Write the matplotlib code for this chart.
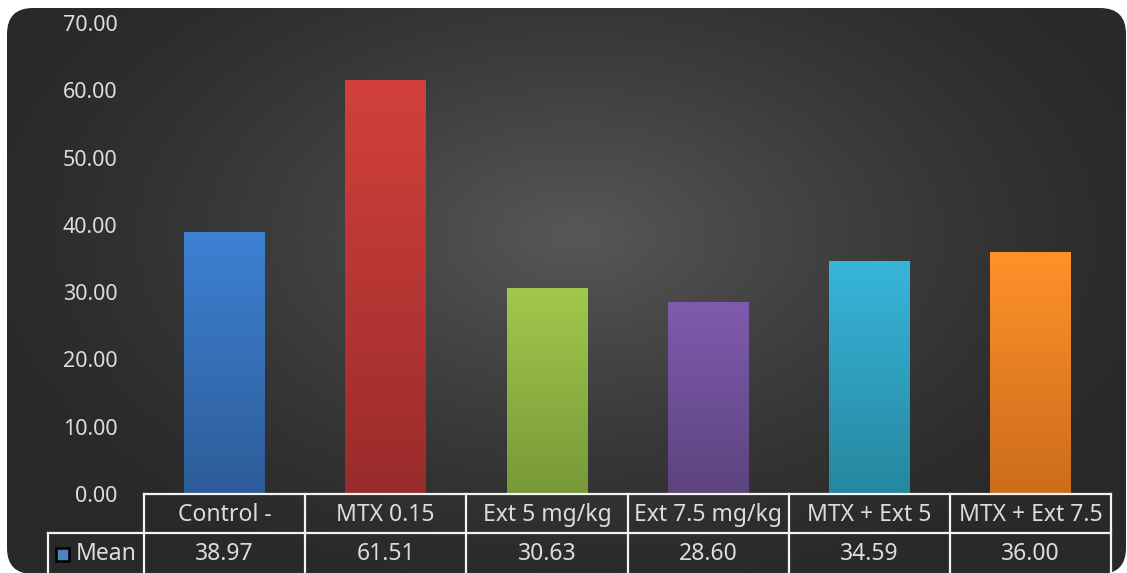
import numpy as np
import matplotlib
matplotlib.use("Agg")
import matplotlib.pyplot as plt
import matplotlib.transforms as mtransforms
from matplotlib.patches import FancyBboxPatch, Rectangle

# data
groups = ["Control -", "MTX 0.15", "Ext 5 mg/kg", "Ext 7.5 mg/kg", "MTX + Ext 5", "MTX + Ext 7.5"]
means = [38.97, 61.51, 30.63, 28.60, 34.59, 36.00]
series_name = "Mean"
y_ticks = [0, 10, 20, 30, 40, 50, 60, 70]

# bar gradients (top colour, bottom colour)
top_colors = ["#3d81d3", "#d2403c", "#a2c84c", "#7f5bae", "#38b5da", "#ff9129"]
bottom_colors = ["#2d5c98", "#9a2b2b", "#779838", "#5c437e", "#25879f", "#cd6c1c"]

text_color = "#dcdcdc"
fs = 15.5
fs_table = 16.5
plt.rcParams["font.family"] = ["Noto Sans", "DejaVu Sans"]

W, H = 1127, 573
fig = plt.figure(figsize=(W / 100, H / 100), dpi=100)
fig.patch.set_facecolor("white")

# dark rounded panel with radial glow
bg = fig.add_axes([0, 0, 1, 1], zorder=0)
bg.set_xlim(0, W)
bg.set_ylim(H, 0)
bg.axis("off")
yy, xx = np.mgrid[0:H, 0:W]
r = np.sqrt(((xx - 575) / 600.0) ** 2 + ((yy - 235) / 360.0) ** 2)
v = 0.163 + 0.18 * np.clip(1 - r, 0, 1) ** 1.3
img = np.dstack([v, v, v])
panel = FancyBboxPatch((7, 8), 1119, 566, boxstyle="round,pad=0,rounding_size=26",
                       facecolor="none", edgecolor="none")
bg.add_patch(panel)
im = bg.imshow(img, extent=[0, W, H, 0], aspect="auto", interpolation="bilinear")
im.set_clip_path(panel)

# main axes
ax = fig.add_axes([144 / W, (H - 494) / H, 967 / W, 471 / H], zorder=1)
ax.set_facecolor("none")
x = np.arange(len(groups))
bars = ax.bar(x, means, width=0.5, color="none", edgecolor="none")
for b, ct, cb in zip(bars, top_colors, bottom_colors):
    c1 = np.array(matplotlib.colors.to_rgb(ct))
    c2 = np.array(matplotlib.colors.to_rgb(cb))
    t = np.linspace(0, 1, 200)[:, None]
    grad = (c1 * (1 - t) + c2 * t)[:, None, :]
    gi = ax.imshow(grad, extent=[b.get_x(), b.get_x() + b.get_width(), 0, b.get_height()],
                   aspect="auto", origin="upper", zorder=2)
    gi.set_clip_path(b)

ax.set_xlim(-0.5, len(groups) - 0.5)
ax.set_ylim(0, 70)
ax.set_yticks(y_ticks)
ax.set_yticklabels([f"{t:.2f}" for t in y_ticks], color=text_color, fontsize=fs)
ax.tick_params(axis="y", length=0, pad=19)
ax.set_xticks([])
for s in ax.spines.values():
    s.set_visible(False)

# data table under the axis
trans = mtransforms.blended_transform_factory(ax.transData, ax.transAxes)
y0, y1, y2 = 0.0, -0.0828, -0.175
lab_left = -0.5 - 96 / 161
lc, lw = "#f2f2f2", 1.6
n = len(groups)
ax.plot([-0.5, n - 0.5], [y0, y0], color=lc, lw=lw, transform=trans, clip_on=False, zorder=3)
ax.plot([lab_left, n - 0.5], [y1, y1], color=lc, lw=lw, transform=trans, clip_on=False, zorder=3)
ax.plot([lab_left, lab_left], [y1, y2], color=lc, lw=lw, transform=trans, clip_on=False, zorder=3)
for i in range(n + 1):
    ax.plot([i - 0.5, i - 0.5], [y0, y2], color=lc, lw=lw, transform=trans, clip_on=False, zorder=3)
for i, (g, m) in enumerate(zip(groups, means)):
    ax.text(i, -0.0446, g, transform=trans, ha="center", va="center", color=text_color, fontsize=fs_table)
    ax.text(i, -0.128, f"{m:.2f}", transform=trans, ha="center", va="center", color=text_color, fontsize=fs_table)

ax.add_patch(Rectangle((-0.5 - 88 / 161, -0.142), 13 / 161, 13 / 471, transform=trans,
                       facecolor="#4f81bd", edgecolor="black", lw=1.8, clip_on=False, zorder=3))
ax.text(-0.5 - 68 / 161, -0.128, series_name, transform=trans, ha="left", va="center",
        color=text_color, fontsize=fs_table)

fig.savefig("out.png", dpi=100, facecolor=fig.get_facecolor())
